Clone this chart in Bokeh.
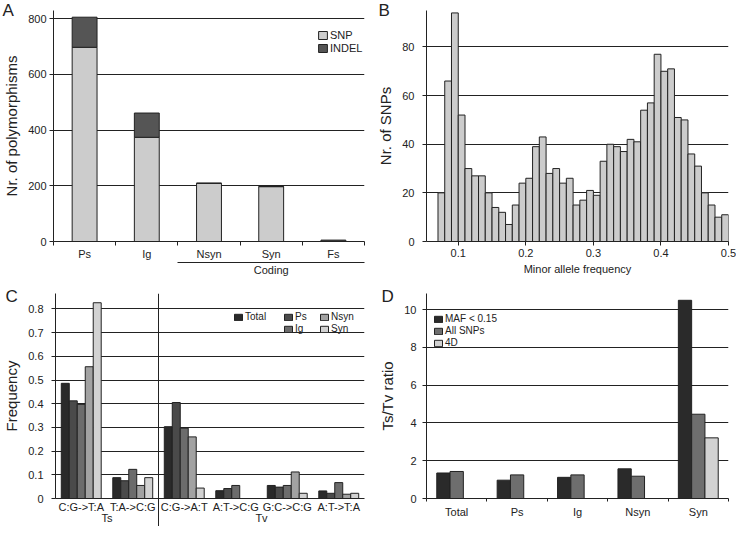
from bokeh.plotting import figure
from bokeh.models import (Range1d, FixedTicker, LinearAxis, Legend, LegendItem,
                          Span, ColumnDataSource)
from bokeh.layouts import column, row
from bokeh.embed import file_html
from bokeh.resources import INLINE

FONT = "Liberation Sans"
INK = "#222222"

# ---------------- Panel A data ----------------
a_categories = ["Ps", "Ig", "Nsyn", "Syn", "Fs"]
a_snp = [697, 374, 209, 197, 0]
a_indel = [108, 87, 0, 0, 5]
a_group_label = "Coding"
a_group_first = "Nsyn"
a_yticks = [0, 200, 400, 600, 800]

# ---------------- Panel B data ----------------
b_bin_start = [0.07, 0.08, 0.09, 0.10, 0.11, 0.12, 0.13, 0.14, 0.15, 0.16,
               0.17, 0.18, 0.19, 0.20, 0.21, 0.22, 0.23, 0.24, 0.25, 0.26,
               0.27, 0.28, 0.29, 0.30, 0.31, 0.32, 0.33, 0.34, 0.35, 0.36,
               0.37, 0.38, 0.39, 0.40, 0.41, 0.42, 0.43, 0.44, 0.45, 0.46,
               0.47, 0.48, 0.49]
b_bin_width = 0.01
b_counts = [20, 66, 94, 52, 30, 27, 27, 20, 14, 12,
            7, 15, 24, 26, 39, 43, 28, 30, 24, 26,
            15, 17, 21, 19, 33, 40, 39, 37, 42, 41,
            54, 57, 77, 70, 71, 51, 50, 36, 31, 20,
            15, 10, 11]
b_xticks = [0.1, 0.2, 0.3, 0.4, 0.5]
b_yticks = [0, 20, 40, 60, 80]

# ---------------- Panel C data ----------------
c_categories = ["C:G->T:A", "T:A->C:G", "C:G->A:T", "A:T->C:G", "G:C->C:G", "A:T->T:A"]
c_classes = ["Ts", "Tv"]
c_class_sizes = [2, 4]
c_series = ["Total", "Ps", "Ig", "Nsyn", "Syn"]
c_total = [0.486, 0.088, 0.303, 0.033, 0.055, 0.032]
c_ps = [0.412, 0.075, 0.405, 0.042, 0.048, 0.022]
c_ig = [0.397, 0.123, 0.297, 0.055, 0.055, 0.067]
c_nsyn = [0.556, 0.055, 0.260, 0.0, 0.112, 0.018]
c_syn = [0.826, 0.088, 0.044, 0.0, 0.022, 0.022]
c_yticks = [0, 0.1, 0.2, 0.3, 0.4, 0.5, 0.6, 0.7, 0.8]

# ---------------- Panel D data ----------------
d_categories = ["Total", "Ps", "Ig", "Nsyn", "Syn"]
d_series = ["MAF < 0.15", "All SNPs", "4D"]
NA = float("nan")
d_maf = [1.35, 0.97, 1.12, 1.57, 10.49]
d_all = [1.43, 1.25, 1.25, 1.18, 4.46]
d_4d = [NA, NA, NA, NA, 3.21]
d_yticks = [0, 2, 4, 6, 8, 10]


def style_axis(ax, label_size="11px"):
    ax.axis_line_color = INK
    ax.axis_line_width = 1
    ax.major_tick_line_color = INK
    ax.major_tick_out = 4
    ax.major_tick_in = 0
    ax.minor_tick_line_color = None
    ax.minor_tick_out = 0
    ax.minor_tick_in = 0
    ax.major_label_text_font = FONT
    ax.major_label_text_font_size = label_size
    ax.major_label_text_color = INK
    ax.axis_label_text_font = FONT
    ax.axis_label_text_font_style = "normal"
    ax.axis_label_text_font_size = "15px"
    ax.axis_label_text_color = INK


def make_fig(letter, offset, standoff, w, h, xr, yr, bl, br, bt, bb):
    p = figure(width=w, height=h, x_range=xr, y_range=yr,
               output_backend="svg", toolbar_location=None,
               min_border_left=bl, min_border_right=br,
               min_border_top=bt, min_border_bottom=bb)
    p.outline_line_color = None
    p.xgrid.visible = False
    p.ygrid.grid_line_color = INK
    p.ygrid.grid_line_width = 1
    for ax in p.axis:
        style_axis(ax)
    p.title.text = letter
    p.title.align = "left"
    p.title.offset = offset
    p.title.standoff = standoff
    p.title.text_font = FONT
    p.title.text_font_size = "17px"
    p.title.text_font_style = "normal"
    p.title.text_color = INK
    return p


def make_legend(items, loc, size="11px", gw=10, gh=8, lh=8, spacing=0):
    return Legend(items=items, location=loc, padding=0, margin=0, spacing=spacing,
                  border_line_color=None, background_fill_alpha=0,
                  glyph_width=gw, glyph_height=gh, label_height=lh,
                  label_standoff=2, label_text_font=FONT,
                  label_text_font_size=size, label_text_color=INK)


W, H1, H2 = 368, 280, 246

# =============== Panel A ===============
nA = len(a_categories)
pA = make_fig("A", -51, -18, W, H1, Range1d(0, nA), Range1d(0, 829), 53, 4, 10, 39)
xa = [i + 0.5 for i in range(nA)]
srcA = ColumnDataSource(dict(x=xa, snp=a_snp, indel=a_indel))
rA = pA.vbar_stack(["snp", "indel"], x="x", width=0.4, source=srcA,
                   fill_color=["#cccccc", "#555555"], line_color=INK, line_width=1)
pA.yaxis.ticker = FixedTicker(ticks=a_yticks)
pA.yaxis.major_label_standoff = 3
pA.yaxis.axis_label = "Nr. of polymorphisms"
pA.yaxis.axis_label_standoff = 5
pA.ygrid.ticker = FixedTicker(ticks=a_yticks[1:])
pA.xaxis.ticker = FixedTicker(ticks=xa, minor_ticks=list(range(nA + 1)))
pA.xaxis.major_label_overrides = {x: c for x, c in zip(xa, a_categories)}
pA.xaxis.major_tick_out = 0
pA.xaxis.minor_tick_line_color = INK
pA.xaxis.minor_tick_out = 4
pA.xaxis.major_label_standoff = 2
g0 = a_categories.index(a_group_first)
axA2 = LinearAxis(ticker=FixedTicker(ticks=[(g0 + nA) / 2]), bounds=(g0, nA))
style_axis(axA2)
axA2.major_label_overrides = {(g0 + nA) / 2: a_group_label}
axA2.major_tick_out = 0
axA2.major_label_standoff = 1
pA.add_layout(axA2, "below")
a_leg_pos = [(264, 200), (264, 187)]
for lab, r, pos in zip(["SNP", "INDEL"], rA, a_leg_pos):
    pA.add_layout(make_legend([LegendItem(label=lab, renderers=[r])], pos,
                              size="11px", gw=11, gh=10, lh=10))

# =============== Panel B ===============
pB = make_fig("B", -48, -18, W, H1, Range1d(0.053, 0.5), Range1d(0, 95), 58, 8, 10, 39)
pB.quad(left=b_bin_start, right=[s + b_bin_width for s in b_bin_start],
        bottom=0, top=b_counts, fill_color="#cccccc", line_color=INK, line_width=1)
pB.xaxis.ticker = FixedTicker(ticks=b_xticks)
pB.xaxis.axis_label = "Minor allele frequency"
pB.xaxis.axis_label_text_font_size = "11px"
pB.xaxis.axis_label_standoff = 3
pB.xaxis.major_label_standoff = 3
pB.yaxis.ticker = FixedTicker(ticks=b_yticks)
pB.yaxis.major_label_standoff = 8
pB.yaxis.axis_label = "Nr. of SNPs"
pB.ygrid.ticker = FixedTicker(ticks=b_yticks[1:])

# =============== Panel C ===============
nC = len(c_categories)
pC = make_fig("C", -50, -24, W, H2, Range1d(0, nC), Range1d(0, 0.865), 53, 4, 13, 28)
c_values = [c_total, c_ps, c_ig, c_nsyn, c_syn]
c_colors = ["#2a2a2a", "#4a4a4a", "#6c6c6c", "#a2a2a2", "#d2d2d2"]
c_w = 0.155
rC = []
for j, (vals, col) in enumerate(zip(c_values, c_colors)):
    xs = [i + 0.5 + (j - 2) * c_w for i in range(nC)]
    rC.append(pC.vbar(x=xs, top=vals, bottom=0, width=c_w, fill_color=col,
                      line_color=INK, line_width=1))
xc = [i + 0.5 for i in range(nC)]
sep = c_class_sizes[0]
pC.add_layout(Span(location=sep, dimension="height", line_color=INK, line_width=1))
pC.xaxis.ticker = FixedTicker(ticks=xc)
pC.xaxis.major_label_overrides = {x: c for x, c in zip(xc, c_categories)}
pC.xaxis.major_tick_out = 0
pC.xaxis.major_label_standoff = 2
class_centers = []
start = 0
for s in c_class_sizes:
    class_centers.append(start + s / 2)
    start += s
axC2 = LinearAxis(ticker=FixedTicker(ticks=class_centers, minor_ticks=[sep]))
style_axis(axC2)
axC2.major_label_overrides = {x: c for x, c in zip(class_centers, c_classes)}
axC2.axis_line_color = None
axC2.major_tick_line_color = None
axC2.major_tick_out = 0
axC2.major_label_standoff = -18
axC2.minor_tick_line_color = INK
axC2.minor_tick_in = 17
axC2.minor_tick_out = 14
pC.add_layout(axC2, "below")
pC.yaxis.ticker = FixedTicker(ticks=c_yticks)
pC.yaxis.major_label_overrides = {0: "0"}
pC.yaxis.major_label_standoff = 8
pC.yaxis.axis_label = "Frequency"
pC.yaxis.axis_label_standoff = 5
pC.ygrid.ticker = FixedTicker(ticks=c_yticks[1:])
# legend cells: Total | Ps, Ig | Nsyn, Syn
c_leg_pos = [(178, 176), (228, 176), (228, 164), (264, 176), (264, 164)]
for lab, r, pos in zip(c_series, rC, c_leg_pos):
    pC.add_layout(make_legend([LegendItem(label=lab, renderers=[r])], pos, size="10px"))

# =============== Panel D ===============
nD = len(d_categories)
pD = make_fig("D", -45, -24, W, H2, Range1d(0, nD), Range1d(0, 10.85), 58, 8, 13, 28)
d_values = [d_maf, d_all, d_4d]
d_colors = ["#2a2a2a", "#6e6e6e", "#d2d2d2"]
d_w = 0.22
rD = []
for j, (vals, col) in enumerate(zip(d_values, d_colors)):
    xs = [i + 0.5 + (j - 1) * d_w for i in range(nD)]
    rD.append(pD.vbar(x=xs, top=vals, bottom=0, width=d_w, fill_color=col,
                      line_color=INK, line_width=1))
xd = [i + 0.5 for i in range(nD)]
pD.xaxis.ticker = FixedTicker(ticks=xd, minor_ticks=list(range(nD + 1)))
pD.xaxis.major_label_overrides = {x: c for x, c in zip(xd, d_categories)}
pD.xaxis.major_tick_out = 0
pD.xaxis.major_label_standoff = 4
pD.xaxis.minor_tick_line_color = INK
pD.xaxis.minor_tick_out = 3
pD.yaxis.ticker = FixedTicker(ticks=d_yticks)
pD.yaxis.axis_label = "Ts/Tv ratio"
pD.yaxis.major_label_standoff = 6
pD.ygrid.ticker = FixedTicker(ticks=d_yticks[1:])
d_leg_pos = [(7, 174), (7, 162), (7, 150)]
for lab, r, pos in zip(d_series, rD, d_leg_pos):
    pD.add_layout(make_legend([LegendItem(label=lab, renderers=[r])], pos, size="10px"))

layout = column(row(pA, pB), row(pC, pD))
open("out.html", "w").write(file_html(layout, INLINE))
